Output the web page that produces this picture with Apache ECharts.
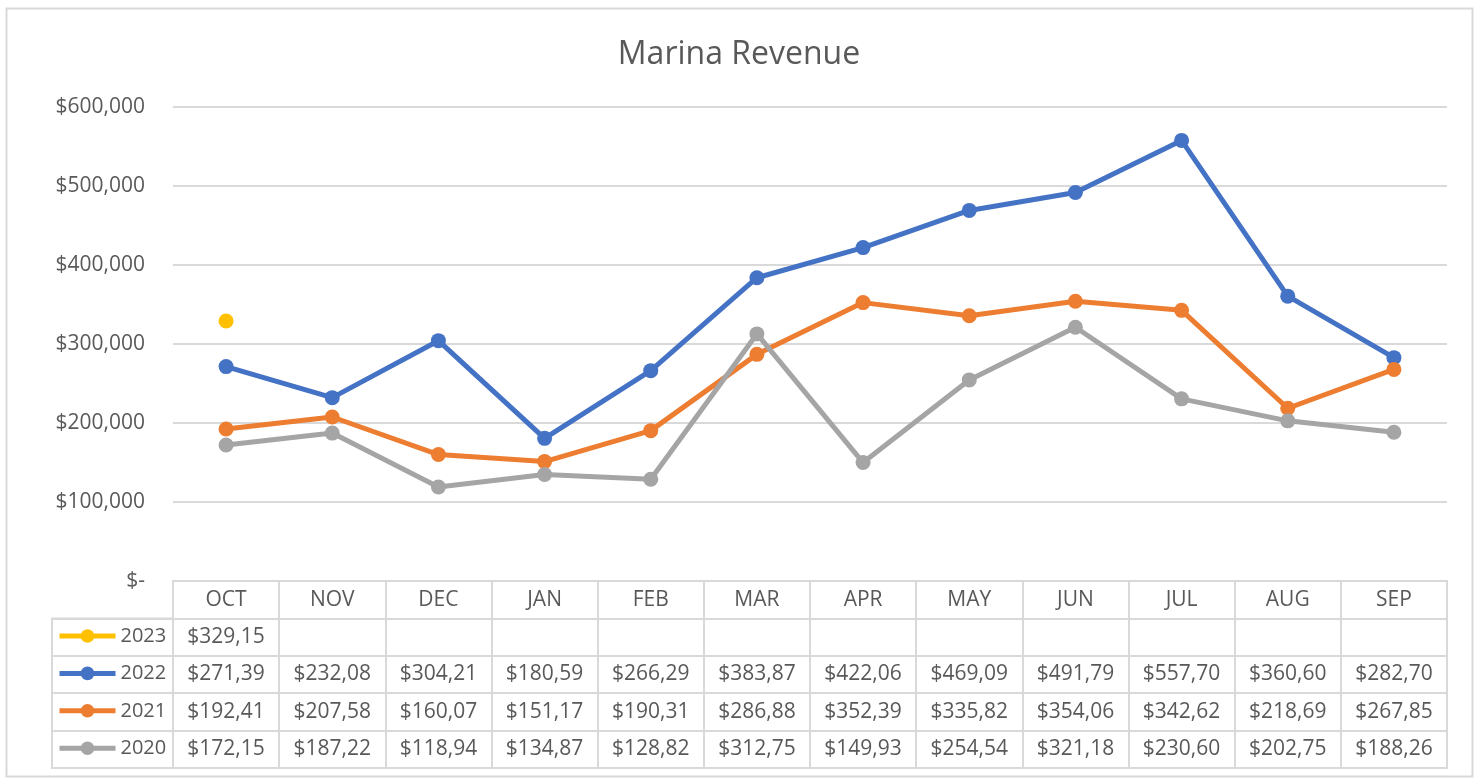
<!DOCTYPE html>
<html>
<head>
<meta charset="utf-8">
<title>Marina Revenue</title>
<script src="https://cdn.jsdelivr.net/npm/echarts@6/dist/echarts.min.js"></script>
<style>
	html, body { margin: 0; padding: 0; background: #fff; }
	#main { width: 1478px; height: 780px; }
</style>
</head>
<body>
<div id="main"></div>
<script>
// 数据
var months = ['OCT', 'NOV', 'DEC', 'JAN', 'FEB', 'MAR', 'APR', 'MAY', 'JUN', 'JUL', 'AUG', 'SEP'];
var years = ['2023', '2022', '2021', '2020'];
var rev2023 = [329150, null, null, null, null, null, null, null, null, null, null, null];
var rev2022 = [271390, 232080, 304210, 180590, 266290, 383870, 422060, 469090, 491790, 557700, 360600, 282700];
var rev2021 = [192410, 207580, 160070, 151170, 190310, 286880, 352390, 335820, 354060, 342620, 218690, 267850];
var rev2020 = [172150, 187220, 118940, 134870, 128820, 312750, 149930, 254540, 321180, 230600, 202750, 188260];
var yTicks = [0, 100000, 200000, 300000, 400000, 500000, 600000];

var colors = ['#FFC000', '#4472C4', '#ED7D31', '#A5A5A5'];
var seriesData = [rev2023, rev2022, rev2021, rev2020];
var textColor = '#595959';
var lineGray = '#d9d9d9';
var font = '"Open Sans", "Noto Sans", sans-serif';

// 表格单元格文字（Excel 数据表中被截断的显示）
function cellText(v) {
	if (v == null) return '';
	var k = Math.floor(v / 1000);
	var r = String(v % 1000);
	while (r.length < 3) r = '0' + r;
	return '$' + k + ',' + r.slice(0, 2);
}
var cells = [];
months.forEach(function (m, i) {
	cells.push([i, 0, m]);
});
seriesData.forEach(function (arr, r) {
	arr.forEach(function (v, i) {
		if (v != null) cells.push([i, r + 1, cellText(v)]);
	});
});

var myChart = echarts.init(document.getElementById('main'));

var lineSeries = years.map(function (y, k) {
	return {
		name: y,
		type: 'line',
		xAxisIndex: 0,
		yAxisIndex: 0,
		data: seriesData[k],
		color: colors[k],
		symbol: 'circle',
		symbolSize: 15,
		showSymbol: true,
		connectNulls: false,
		lineStyle: { width: 5, color: colors[k] },
		itemStyle: { color: colors[k] },
		emphasis: { disabled: true }
	};
});

var option = {
	animation: false,
	textStyle: { fontFamily: font },
	title: {
		text: 'Marina Revenue',
		left: 'center',
		top: 34,
		textStyle: { fontSize: 32, fontWeight: 'normal', color: textColor, fontFamily: font }
	},
	legend: {
		data: years,
		orient: 'vertical',
		left: 57,
		top: 626,
		padding: 0,
		itemWidth: 56,
		itemHeight: 17,
		itemGap: 17.4,
		selectedMode: false,
		lineStyle: { width: 5 },
		textStyle: { fontSize: 20, lineHeight: 20, color: textColor, fontFamily: font }
	},
	graphic: [{
		type: 'rect',
		shape: { x: 6.5, y: 8.5, width: 1466, height: 768 },
		style: { fill: 'none', stroke: lineGray, lineWidth: 2 },
		silent: true
	}],
	grid: [
		{ left: 173, right: 31, top: 107, bottom: 199 },  // 折线
		{ left: 173, right: 31, top: 581, height: 187, show: true, borderColor: lineGray, borderWidth: 2 },  // 数据表
		{ left: 52, width: 121, top: 618.4, height: 149.6, show: true, borderColor: lineGray, borderWidth: 2 }  // 图例列
	],
	xAxis: [
		{
			gridIndex: 0, type: 'category', data: months, boundaryGap: true,
			axisLine: { show: false }, axisTick: { show: false }, axisLabel: { show: false }, splitLine: { show: false }
		},
		{
			gridIndex: 1, type: 'category', data: months, boundaryGap: true,
			axisLine: { show: false }, axisTick: { show: false }, axisLabel: { show: false },
			splitLine: { show: true, interval: 0, lineStyle: { color: lineGray, width: 2 } }
		},
		{
			gridIndex: 2, type: 'category', data: [''], boundaryGap: true,
			axisLine: { show: false }, axisTick: { show: false }, axisLabel: { show: false }, splitLine: { show: false }
		}
	],
	yAxis: [
		{
			gridIndex: 0, type: 'value', min: yTicks[0], max: yTicks[yTicks.length - 1], interval: 100000,
			axisLine: { show: false }, axisTick: { show: false },
			axisLabel: {
				margin: 28, fontSize: 21, color: textColor, fontFamily: font,
				formatter: function (v) {
					return v === 0 ? '$-' : '$' + v.toLocaleString('en-US');
				}
			},
			splitLine: { show: true, lineStyle: { color: lineGray, width: 2 } }
		},
		{
			gridIndex: 1, type: 'category', data: ['hdr'].concat(years), inverse: true, boundaryGap: true,
			axisLine: { show: false }, axisTick: { show: false }, axisLabel: { show: false },
			splitLine: { show: true, interval: 0, lineStyle: { color: lineGray, width: 2 } }
		},
		{
			gridIndex: 2, type: 'category', data: years, inverse: true, boundaryGap: true,
			axisLine: { show: false }, axisTick: { show: false }, axisLabel: { show: false },
			splitLine: { show: true, interval: 0, lineStyle: { color: lineGray, width: 2 } }
		}
	],
	series: lineSeries.concat([{
		type: 'custom',
		xAxisIndex: 1,
		yAxisIndex: 1,
		silent: true,
		data: cells.map(function (c) { return [c[0], c[1]]; }),
		renderItem: function (params, api) {
			var p = api.coord([api.value(0), api.value(1)]);
			return {
				type: 'text',
				x: p[0],
				y: p[1],
				style: {
					text: cells[params.dataIndex][2],
					textAlign: 'center',
					textVerticalAlign: 'middle',
					fill: textColor,
					fontSize: 21,
					fontFamily: font
				}
			};
		}
	}])
};

myChart.setOption(option);
</script>
</body>
</html>
